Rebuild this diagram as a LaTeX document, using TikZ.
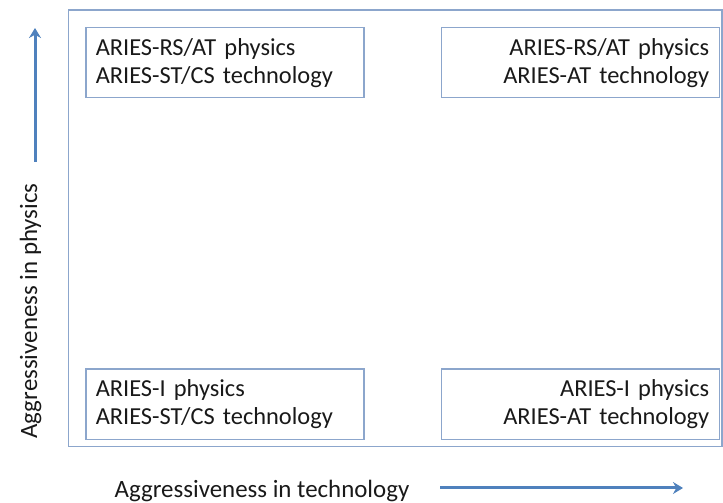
\documentclass[tikz,border=0pt]{standalone}
\usepackage{fontspec}
\setmainfont{Carlito}
\usetikzlibrary{arrows.meta,positioning}
\definecolor{framecol}{RGB}{140,166,204}
\definecolor{axiscol}{RGB}{79,129,189}

\begin{document}
\begin{tikzpicture}[x=1bp,y=1bp,
  quad/.style={draw=framecol,line width=1.5bp,minimum height=70bp,
    text width=258bp,inner xsep=10bp,inner ysep=0pt,
    font=\fontsize{24.5}{28}\selectfont,text=black!90},
  quadl/.style={quad,align=left},
  quadr/.style={quad,align=right},
  axislbl/.style={font=\fontsize{25}{30}\selectfont,text=black!90},
  arr/.style={-{Stealth[length=10bp,width=12bp]},draw=axiscol,line width=3bp}
]
\useasboundingbox (0,0) rectangle (723,503);
\draw[framecol,line width=1.5bp] (68.5,56.5) rectangle (722,493);

\node[quadl,anchor=north west] (physrs) at (85,476)
  {ARIES-RS/AT physics\\ARIES-ST/CS technology};
\node[quadr,right=76bp of physrs] (physat)
  {ARIES-RS/AT physics\\ARIES-AT technology};
\node[quadl,below=270bp of physrs] (physi)
  {ARIES-I physics\\ARIES-ST/CS technology};
\node[quadr,below=270bp of physat] (physiat)
  {ARIES-I physics\\ARIES-AT technology};

\node[axislbl,rotate=90,anchor=base] (physlbl) at (37,192)
  {Aggressiveness in physics};
\node[axislbl,anchor=base] (techlbl) at (262,5)
  {Aggressiveness in technology};

\coordinate (physlo) at (35,341);
\coordinate (physhi) at (35,475);
\coordinate (techlo) at (440,15);
\coordinate (techhi) at (683,15);
\draw[arr] (physlo)--(physhi);
\draw[arr] (techlo)--(techhi);
\end{tikzpicture}
\end{document}
